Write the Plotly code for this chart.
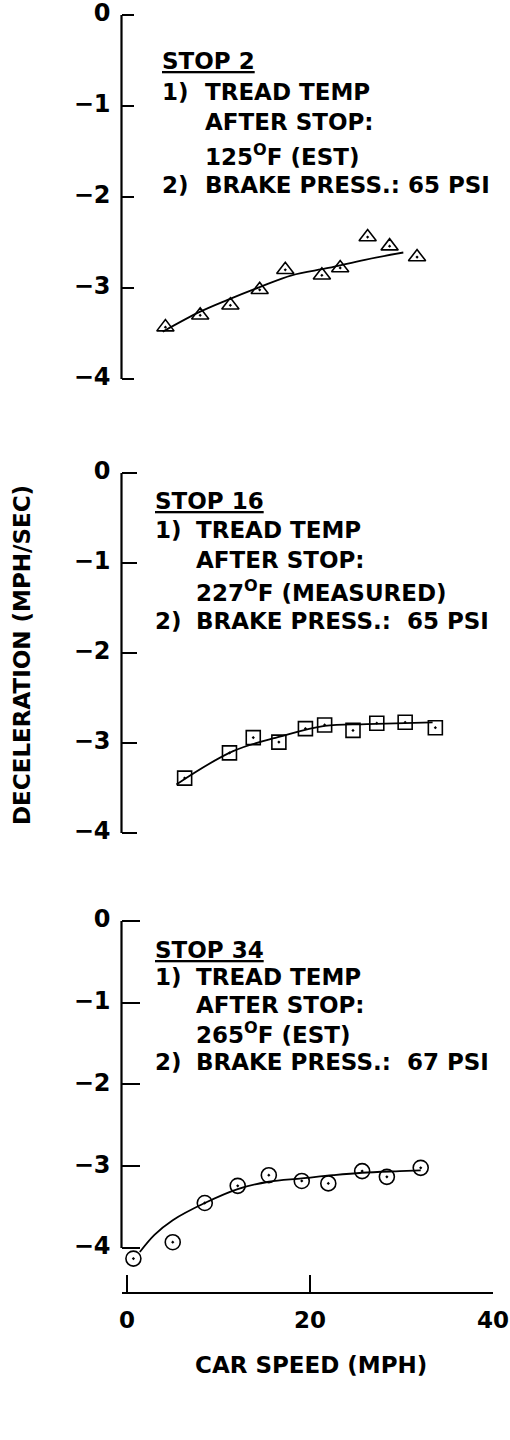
import plotly.graph_objects as go

# ── Data ───────────────────────────────────────────────────────────────────
# Stop 2 (triangles)
STOP2_SPEED = [4.2, 8.0, 11.3, 14.5, 17.3, 21.3, 23.3, 26.3, 28.7, 31.7]
STOP2_DECEL = [-3.43, -3.30, -3.19, -3.02, -2.80, -2.86, -2.78, -2.44, -2.54, -2.66]
STOP2_FIT_SPEED = [3.9, 8.0, 11.0, 14.5, 18.0, 22.0, 26.0, 30.2]
STOP2_FIT_DECEL = [-3.48, -3.26, -3.13, -2.99, -2.86, -2.78, -2.69, -2.61]

# Stop 16 (squares)
STOP16_SPEED = [6.3, 11.2, 13.8, 16.6, 19.5, 21.6, 24.7, 27.3, 30.4, 33.7]
STOP16_DECEL = [-3.39, -3.11, -2.94, -2.99, -2.84, -2.80, -2.86, -2.78, -2.77, -2.83]
STOP16_FIT_SPEED = [5.4, 11.6, 16.7, 21.6, 26.2, 33.4]
STOP16_FIT_DECEL = [-3.46, -3.09, -2.93, -2.81, -2.79, -2.77]

# Stop 34 (circles)
STOP34_SPEED = [0.7, 5.0, 8.5, 12.1, 15.5, 19.1, 22.0, 25.7, 28.4, 32.1]
STOP34_DECEL = [-4.13, -3.93, -3.45, -3.24, -3.11, -3.18, -3.21, -3.06, -3.13, -3.02]
STOP34_FIT_SPEED = [1.4, 3.0, 5.0, 8.5, 12.1, 15.5, 19.1, 22.5, 25.7, 29.8, 32.1]
STOP34_FIT_DECEL = [-4.05, -3.84, -3.66, -3.45, -3.28, -3.19, -3.15, -3.11, -3.08, -3.06, -3.05]

Y_TICKS = [0, -1, -2, -3, -4]
X_TICKS = [0, 20, 40]

STOP2_NOTE = ["<u>STOP 2</u>", "1)", "TREAD TEMP", "AFTER STOP:",
              "125<sup>O</sup>F (EST)", "2)", "BRAKE PRESS.: 65 PSI"]
STOP16_NOTE = ["<u>STOP 16</u>", "1)", "TREAD TEMP", "AFTER STOP:",
               "227<sup>O</sup>F (MEASURED)", "2)", "BRAKE PRESS.:  65 PSI"]
STOP34_NOTE = ["<u>STOP 34</u>", "1)", "TREAD TEMP", "AFTER STOP:",
               "265<sup>O</sup>F (EST)", "2)", "BRAKE PRESS.:  67 PSI"]

# ── Styling ────────────────────────────────────────────────────────────────
W, H = 510, 1440
FONT = "DejaVu Sans"
INK = "black"


def px_x(px):
    return px / W


def px_y(py):
    return 1 - py / H


X_DOMAIN = [px_x(121.5), px_x(493)]


def ydom(top_px, bottom_px):
    return [max(0, px_y(bottom_px)), min(1, px_y(top_px))]


fig = go.Figure()

panels = [
    ("x", "y", STOP2_SPEED, STOP2_DECEL, STOP2_FIT_SPEED, STOP2_FIT_DECEL,
     "triangle-up-open-dot", 15),
    ("x2", "y2", STOP16_SPEED, STOP16_DECEL, STOP16_FIT_SPEED, STOP16_FIT_DECEL,
     "square-open-dot", 14),
    ("x3", "y3", STOP34_SPEED, STOP34_DECEL, STOP34_FIT_SPEED, STOP34_FIT_DECEL,
     "circle-open-dot", 15),
]

for xa, ya, sx, sy, fx, fy, sym, msize in panels:
    fig.add_trace(go.Scatter(
        x=fx, y=fy, xaxis=xa, yaxis=ya, mode="lines",
        line=dict(color=INK, width=1.8, shape="spline", smoothing=1.0),
        hoverinfo="skip", showlegend=False,
    ))
    fig.add_trace(go.Scatter(
        x=sx, y=sy, xaxis=xa, yaxis=ya, mode="markers",
        marker=dict(symbol=sym, size=msize, color=INK,
                    line=dict(color=INK, width=1.6)),
        cliponaxis=False, showlegend=False,
    ))

# y-axis spines only from 0 to -4, like the original
for xa, ya in [("x", "y"), ("x2", "y2"), ("x3", "y3")]:
    fig.add_shape(type="line", xref=f"{xa} domain", yref=ya,
                  x0=0, x1=0, y0=0, y1=-4,
                  line=dict(color=INK, width=2.2))

tickfont = dict(family=FONT, size=24, color=INK, weight="bold")
yaxis_common = dict(
    tickvals=Y_TICKS, ticks="inside", tickcolor=INK, tickwidth=1.8,
    showgrid=False, zeroline=False, showline=False, automargin=False,
    tickfont=tickfont, ticklabelstandoff=10, ticklabeloverflow="allow",
    ticklabelshift=-2,
)
hidden_x = dict(domain=X_DOMAIN, range=[-0.6, 40], visible=False)

fig.update_layout(
    width=W, height=H,
    margin=dict(l=0, r=0, t=0, b=0, autoexpand=False),
    paper_bgcolor="white", plot_bgcolor="white",
    showlegend=False,
    xaxis=dict(hidden_x, anchor="y"),
    xaxis2=dict(hidden_x, anchor="y2"),
    xaxis3=dict(
        domain=X_DOMAIN, range=[-0.6, 40], anchor="y3", automargin=False,
        tickvals=X_TICKS, ticks="inside", ticklen=17, tickwidth=1.8,
        tickcolor=INK, showline=True, linecolor=INK, linewidth=2.2,
        showgrid=False, zeroline=False,
        tickfont=dict(tickfont, size=23),
        ticklabelstandoff=6, ticklabeloverflow="allow",
    ),
    yaxis=dict(yaxis_common, domain=ydom(5.9, 388.1), range=[-4.1, 0.1],
               anchor="x", ticklen=12),
    yaxis2=dict(yaxis_common, domain=ydom(464, 842), range=[-4.1, 0.1],
                anchor="x2", ticklen=15),
    yaxis3=dict(yaxis_common, domain=ydom(912.8, 1292.1), range=[-4.54, 0.1],
                anchor="x3", ticklen=18),
)

# ── Text notes inside each panel ──────────────────────────────────────────
note_font = dict(family=FONT, size=23, color=INK, weight="bold")
note_layout = [
    # (note lines, left x, indented x, line centres in px)
    (STOP2_NOTE, 160, 203, [61, 92, 122, 155, 185]),
    (STOP16_NOTE, 153, 194, [501, 530, 560, 591, 621]),
    (STOP34_NOTE, 153, 194, [950, 977, 1005, 1033, 1062]),
]
for note, xl, xi, ys in note_layout:
    placed = [
        (xl, ys[0], note[0]), (xl, ys[1], note[1]), (xi, ys[1], note[2]),
        (xi, ys[2], note[3]), (xi, ys[3], note[4]),
        (xl, ys[4], note[5]), (xi, ys[4], note[6]),
    ]
    for px, py, txt in placed:
        fig.add_annotation(
            x=px_x(px), y=px_y(py), xref="paper", yref="paper",
            xanchor="left", yanchor="middle", text=txt, showarrow=False,
            font=note_font,
        )

# axis titles
fig.add_annotation(
    x=px_x(22), y=px_y(655), xref="paper", yref="paper",
    xanchor="center", yanchor="middle",
    text="DECELERATION (MPH/SEC)", textangle=-90, showarrow=False,
    font=dict(family=FONT, size=23, color=INK, weight="bold"),
)
fig.add_annotation(
    x=px_x(311), y=px_y(1365), xref="paper", yref="paper",
    xanchor="center", yanchor="middle",
    text="CAR SPEED (MPH)", showarrow=False,
    font=dict(family=FONT, size=23, color=INK, weight="bold"),
)

# drop the browser's default 8px body margin so the figure fills the window
fig.write_html("out.html", config={"displayModeBar": False},
               post_script="document.body.style.margin = '0';")
